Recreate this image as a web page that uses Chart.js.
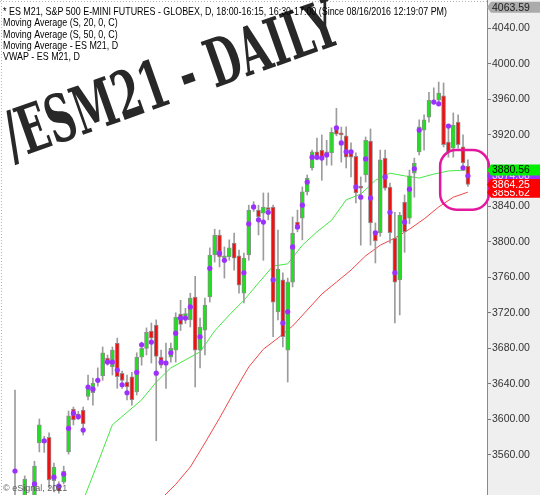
<!DOCTYPE html>
<html>
<head>
<meta charset="utf-8">
<title>ES M21 Daily</title>
<script src="https://cdn.jsdelivr.net/npm/chart.js@4.4.1/dist/chart.umd.min.js"></script>
<style>
  html, body { margin: 0; padding: 0; background: #ffffff; }
  #wrap { width: 540px; height: 495px; }
</style>
</head>
<body>
<div id="wrap"><canvas id="chart" width="540" height="495"></canvas></div>
<script>
// Daily OHLC of ES M21, one entry per session (oldest first)
const opens = [3500,3505,3505,3510,3508,3573.5,3577,3580,3531,3525,3529.5,3563.5,3611.75,3606,3610.5,3626,3630,3643,3649,3669,3659,3686,3652,3642,3648,3631,3670,3680,3699.5,3706,3670,3664.5,3670,3678,3718.5,3716,3712,3737.75,3678,3700.5,3737.75,3785,3807.5,3781.5,3782.75,3798.5,3784,3742,3785,3838,3835.5,3832,3838,3839,3721,3757,3678,3754.5,3822,3826.5,3856,3883,3901,3903,3897.5,3899.75,3928,3922,3919,3903,3896,3862.5,3875,3913,3812,3809.75,3894,3861.5,3804,3757,3844.5,3826.5,3877,3901,3925.5,3940,3959,3959,3964,3912,3905,3934.5,3906.5,3885];
const highs = [3633,3512,3536.5,3513,3553,3600.5,3581,3585,3551,3530,3547.5,3609.5,3614,3609,3614,3650,3646.5,3658,3681.5,3672.5,3681.5,3691.5,3654.5,3650,3653,3675,3687,3703,3708.5,3712,3678,3686,3686,3720,3734,3725,3742,3761,3714,3736.5,3793,3814,3813,3794,3802,3809.75,3790.5,3787,3841,3845,3841,3854.75,3854.75,3841,3813,3765,3759,3827.75,3835.5,3861.5,3875,3903,3916.5,3920,3914,3928,3950,3929,3929,3911,3900,3872.75,3917.75,3926.75,3821,3903,3903,3866,3833,3833,3852.5,3880.5,3894,3937,3942.5,3968,3973,3979.5,3978.5,3931,3944.75,3942.5,3920,3892];
const lows = [3480,3490,3498,3495,3500,3563.5,3563,3523,3518.5,3517,3527.5,3561,3593.75,3600,3582.5,3622,3616,3637.5,3644,3661,3650,3635,3635,3622,3616,3627.5,3661,3672.5,3663.5,3576,3658,3635,3664.5,3664.5,3700,3708,3704,3636.5,3658,3672.5,3732,3777,3771.5,3759,3779,3768,3742,3731,3779,3834,3807.5,3779,3824.5,3693,3712,3681.5,3642,3749,3811,3802,3852.5,3880.5,3892,3869,3886,3886,3919,3889.5,3883,3872.75,3843.5,3796,3867,3796,3776,3806,3858,3798.5,3708.5,3717.5,3788,3820,3850,3897.5,3903,3934.5,3955,3957,3906.5,3895,3895,3905,3880.5,3862];
const closes = [3508,3498,3533,3500,3547.5,3594,3574,3532,3546.5,3519.5,3542,3604,3599.5,3603,3595,3636.5,3641,3645.5,3675,3666,3678,3648,3644,3636.5,3622,3670,3680,3698,3691.5,3671,3661,3663.5,3680,3715,3707,3719,3736.5,3678,3704,3728.75,3785,3807.5,3782.75,3784,3793,3781.5,3751,3781.5,3835.5,3840,3827.75,3839,3836,3732,3769,3693,3754.5,3809.75,3815,3856,3871.5,3901,3895,3894,3901,3923,3921,3920,3895,3895,3854.75,3860,3914,3821,3800.75,3892,3860,3810,3754.5,3830,3811,3874,3888.5,3929,3937,3959,3956,3967,3909,3901,3931,3909,3888.5,3864.25];

// VWAP marker per session (null where no marker is plotted)
const vwap = [3542,null,null,null,3527.5,null,3576,null,3535,3525,3538.5,3590,3607,3603,3588,3636.5,3634,3644,null,3664.5,3664.5,3655.5,3639,3630,null,3653,3684,null,3687,3652,3664.5,3663.5,3675,3697,3714,3714,3726.5,null,3693,null,3770,null,3787,3779,null,null,null,3765,3820,3839,3824.5,3822,3833,3757,null,3708.5,3721,3794,3816.5,3841,3867,3895,3895,3894,3897.5,null,3928,3911,3901,3901,3861.5,3850,3893,3849,3810,null,3872.75,3833,3765,null,3822,3859,3882,3925.5,null,null,3957,3955,null,3930,null,null,3883,3874.08];

// Moving averages, read at every third session
const ma20Sessions = [14,17,20,23,26,29,32,35,38,41,44,47,50,53,56,59,62,65,68,71,74,77,80,83,86,89,93];
const ma20Values   = [3509,3551,3594,3608,3622,3642,3658,3667,3676,3699.5,3717.5,3734,3753.5,3772.5,3775,3796,3811,3824,3847,3853.5,3869,3877,3874,3871.5,3876,3879.5,3880.56];
const ma50Sessions = [30,33,36,39,42,45,48,51,54,57,60,63,66,69,72,75,78,81,84,87,90,93];
const ma50Values   = [3510.5,3527,3546.5,3573.5,3601.5,3631,3659,3679,3691.5,3705,3723,3741,3754.5,3768,3784,3796,3804,3814,3825.5,3839,3850,3855.62];

// Price axis
const priceTicks = [3560,3600,3640,3680,3720,3760,3800,3840,3880,3920,3960,4000,4040];
const priceMin = 3515, priceMax = 4071.8;
const sessionMin = -3.08, sessionMax = 96.92;

// Axis tags
const topMark = 4063.59;
const lastMA20 = 3880.56, lastVWAP = 3874.08, lastMA50 = 3855.62;
const lastClose = closes[closes.length - 1];

// Highlighted area around the latest sessions
const focusBox = { fromSession: 87.3, toSession: 97.3, upper: 3903, lower: 3836 };

const headerLines = [
  '* ES M21, S&P 500 E-MINI FUTURES - GLOBEX, D, 18:00-16:15, 16:30-17:00 (Since 08/16/2016 12:19:07 PM)',
  'Moving Average (S, 20, 0, C)',
  'Moving Average (S, 50, 0, C)',
  'Moving Average - ES M21, D',
  'VWAP - ES M21, D'
];
const title = '/ESM21 - DAILY';
const copyright = '\u00A9 eSignal, 2021';

const UP = '#1fe01f', DOWN = '#f01010', OUTLINE = '#8f8f8f', WICK = '#9c9c9c', PURPLE = '#9b30ff';

const wickData = opens.map((o, i) => ({ x: i, y: [lows[i], highs[i]] }));
const bodyData = opens.map((o, i) => ({ x: i, y: [o, closes[i]] }));
const bodyColors = opens.map((o, i) => closes[i] >= o ? UP : DOWN);
const vwapData = vwap.map((v, i) => v === null ? null : { x: i, y: v }).filter(p => p);
const ma20Data = ma20Sessions.map((s, i) => ({ x: s, y: ma20Values[i] }));
const ma50Data = ma50Sessions.map((s, i) => ({ x: s, y: ma50Values[i] }));

function drawTag(ctx, x, y, right, fill, textColor, value) {
  const h = 11;
  ctx.beginPath();
  ctx.moveTo(x, y);
  ctx.lineTo(x + 4, y - h / 2);
  ctx.lineTo(right, y - h / 2);
  ctx.lineTo(right, y + h / 2);
  ctx.lineTo(x + 4, y + h / 2);
  ctx.closePath();
  ctx.fillStyle = fill;
  ctx.fill();
  ctx.fillStyle = textColor;
  ctx.font = '10.5px "Liberation Sans", Arial, sans-serif';
  ctx.textAlign = 'left';
  ctx.textBaseline = 'middle';
  ctx.fillText(value.toFixed(2), x + 5, y + 0.5);
}

const decor = {
  id: 'decor',
  beforeDraw(chart) {
    const { ctx, chartArea: a, width, height } = chart;
    ctx.save();
    ctx.fillStyle = '#ffffff';
    ctx.fillRect(0, 0, width, height);
    ctx.fillStyle = '#efefef';
    ctx.fillRect(a.right, 0, width - a.right, height);
    // dotted frame of the price pane
    ctx.strokeStyle = '#b4b4b4';
    ctx.lineWidth = 1;
    ctx.setLineDash([1, 2]);
    ctx.beginPath();
    ctx.moveTo(0, 1.5); ctx.lineTo(a.right, 1.5);
    ctx.moveTo(1.5, 0); ctx.lineTo(1.5, height);
    ctx.stroke();
    ctx.setLineDash([]);
    // large title stamp
    ctx.translate(178, 101);
    ctx.rotate(-19.5 * Math.PI / 180);
    ctx.font = 'bold 66px "DejaVu Serif", serif';
    const w = ctx.measureText(title).width;
    ctx.scale(350 / w, 1);
    ctx.fillStyle = '#282828';
    ctx.textAlign = 'center';
    ctx.textBaseline = 'alphabetic';
    ctx.fillText(title, 0, 0);
    ctx.restore();
  },
  afterDraw(chart) {
    const { ctx, chartArea: a, width } = chart;
    const xs = chart.scales.x, ys = chart.scales.y;
    ctx.save();

    // header lines
    ctx.font = '11.5px "Liberation Sans", Arial, sans-serif';
    const sx = 444 / ctx.measureText(headerLines[0]).width;
    ctx.fillStyle = '#000000';
    ctx.textAlign = 'left';
    ctx.textBaseline = 'middle';
    headerLines.forEach((line, i) => {
      ctx.save();
      ctx.translate(3, 11.7 + i * 11.4);
      ctx.scale(sx, 1);
      ctx.fillText(line, 0, 0);
      ctx.restore();
    });

    // copyright
    ctx.font = '9px "Liberation Sans", Arial, sans-serif';
    ctx.fillStyle = 'rgba(70,70,70,0.85)';
    ctx.fillText(copyright, 3, 489);

    // highlight box
    const x0 = xs.getPixelForValue(focusBox.fromSession);
    const x1 = xs.getPixelForValue(focusBox.toSession);
    const y0 = ys.getPixelForValue(focusBox.upper);
    const y1 = ys.getPixelForValue(focusBox.lower);
    const r = 16;
    ctx.beginPath();
    ctx.moveTo(x0 + r, y0);
    ctx.lineTo(x1 - r, y0);
    ctx.arcTo(x1, y0, x1, y0 + r, r);
    ctx.lineTo(x1, y1 - r);
    ctx.arcTo(x1, y1, x1 - r, y1, r);
    ctx.lineTo(x0 + r, y1);
    ctx.arcTo(x0, y1, x0, y1 - r, r);
    ctx.lineTo(x0, y0 + r);
    ctx.arcTo(x0, y0, x0 + r, y0, r);
    ctx.closePath();
    ctx.strokeStyle = '#e3189e';
    ctx.lineWidth = 2.5;
    ctx.stroke();

    // axis tags
    const tx = a.right;
    drawTag(ctx, tx, ys.getPixelForValue(topMark), width, '#ababab', '#1a1a1a', topMark);
    drawTag(ctx, tx, ys.getPixelForValue(lastVWAP), width, PURPLE, '#e6d6ff', lastVWAP);
    drawTag(ctx, tx, ys.getPixelForValue(lastMA20), width, '#00f000', '#000000', lastMA20);
    drawTag(ctx, tx, ys.getPixelForValue(lastMA50), width, '#ff0000', '#ffffff', lastMA50);
    drawTag(ctx, tx, ys.getPixelForValue(lastClose), width, '#ff0000', '#ffffff', lastClose);
    ctx.restore();
  }
};

// the price pane runs the full height of the canvas: no label overhang padding
function noOverhang(scale) {
  scale._calculatePadding = function () {
    this.paddingTop = 0; this.paddingBottom = 0; this.paddingLeft = 0; this.paddingRight = 0;
  };
}

new Chart(document.getElementById('chart'), {
  type: 'bar',
  data: {
    datasets: [
      { type: 'line', label: 'MA 20', data: ma20Data, borderColor: '#45e845', borderWidth: 1,
        pointRadius: 0, tension: 0, spanGaps: true, order: 5 },
      { type: 'line', label: 'MA 50', data: ma50Data, borderColor: '#f04848', borderWidth: 1,
        pointRadius: 0, tension: 0, spanGaps: true, order: 5 },
      { type: 'bar', label: 'Range', data: wickData, backgroundColor: WICK,
        barThickness: 1, grouped: false, order: 4 },
      { type: 'bar', label: 'Body', data: bodyData, backgroundColor: bodyColors,
        borderColor: OUTLINE, borderWidth: 1, borderSkipped: false,
        barThickness: 4, minBarLength: 2, grouped: false, order: 3 },
      { type: 'line', label: 'VWAP', data: vwapData, showLine: false,
        pointRadius: 2.6, pointBackgroundColor: PURPLE, pointBorderWidth: 0, order: 1 }
    ]
  },
  options: {
    responsive: false,
    animation: false,
    devicePixelRatio: 1,
    layout: { padding: 0, autoPadding: false },
    plugins: { legend: { display: false }, tooltip: { enabled: false } },
    scales: {
      x: { type: 'linear', min: sessionMin, max: sessionMax, display: false, offset: false },
      y: {
        position: 'right',
        min: priceMin,
        max: priceMax,
        beforeFit: noOverhang,
        afterFit(scale) { scale.width = 53; scale.paddingTop = 0; scale.paddingBottom = 0; },
        afterBuildTicks(scale) { scale.ticks = priceTicks.map(v => ({ value: v })); },
        grid: { drawOnChartArea: false, tickLength: 4, color: '#777777' },
        border: { color: '#8a8a8a' },
        ticks: {
          callback: v => Number(v).toFixed(2),
          font: { family: '"Liberation Sans", Arial, sans-serif', size: 10.5 },
          color: '#333333',
          padding: 1
        }
      }
    }
  },
  plugins: [decor]
});
</script>
</body>
</html>
